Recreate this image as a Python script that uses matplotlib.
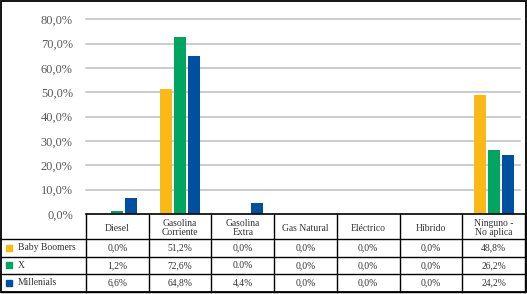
import matplotlib
matplotlib.use("Agg")
import matplotlib.pyplot as plt
from matplotlib.lines import Line2D
from matplotlib.patches import Rectangle

categories = ["Diesel", "Gasolina\nCorriente", "Gasolina\nExtra", "Gas Natural",
              "Eléctrico", "Híbrido", "Ninguno -\nNo aplica"]
series = ["Baby Boomers", "X", "Millenials"]
baby_boomers = [0.0, 51.2, 0.0, 0.0, 0.0, 0.0, 48.8]
gen_x = [1.2, 72.6, 0.0, 0.0, 0.0, 0.0, 26.2]
millenials = [6.6, 64.8, 4.4, 0.0, 0.0, 0.0, 24.2]
table_text = [
    ["0,0%", "51,2%", "0,0%", "0,0%", "0,0%", "0,0%", "48,8%"],
    ["1,2%", "72,6%", "0.0%", "0,0%", "0,0%", "0,0%", "26,2%"],
    ["6,6%", "64,8%", "4,4%", "0,0%", "0,0%", "0,0%", "24,2%"],
]
yticks = [0, 10, 20, 30, 40, 50, 60, 70, 80]
colors = ["#FBB917", "#00A65F", "#0050A2"]

W, H = 527, 294
fig = plt.figure(figsize=(W / 100, H / 100), dpi=100)
plt.rcParams["font.family"] = ["Liberation Serif", "DejaVu Serif"]

x0, x1 = 86, 525
ytop, ybot = 19.3, 214
ax = fig.add_axes([x0 / W, (H - ybot) / H, (x1 - x0) / W, (ybot - ytop) / H])
n = len(categories)
idx = list(range(n))
bw = 0.19
step = 0.223
for j, (vals, c) in enumerate(zip([baby_boomers, gen_x, millenials], colors)):
    ax.bar([i + (j - 1) * step for i in idx], vals, width=bw, color=c, zorder=3)
ax.set_xlim(-0.5, n - 0.5)
ax.set_ylim(0, 80)
ax.set_yticks(yticks)
ax.set_yticklabels([f"{v:.1f}%".replace(".", ",") for v in yticks],
                   fontsize=8.9, color="#595959")
ax.tick_params(axis="y", length=0, pad=9.5)
ax.set_xticks([])
for v in yticks[1:]:
    ax.axhline(v, xmin=0, xmax=(520 - x0) / (x1 - x0), color="#BFBFBF", lw=1.1, zorder=0,
               clip_on=False)
for s in ["left", "right", "top"]:
    ax.spines[s].set_visible(False)
ax.spines["bottom"].set_color("black")
ax.spines["bottom"].set_linewidth(1.2)
ax.spines["bottom"].set_zorder(5)

# table overlay in pixel coordinates
tax = fig.add_axes([0, 0, 1, 1], zorder=-1)
tax.set_xlim(0, W)
tax.set_ylim(H, 0)
tax.axis("off")
cw = (x1 - x0) / n
rows = [214, 239.3, 256.7, 274.0, 291.7]
lw = 1.0
for y in rows[1:]:
    tax.add_line(Line2D([1, x1], [y, y], color="black", lw=lw))
for k in range(n + 1):
    tax.add_line(Line2D([x0 + k * cw] * 2, [ybot, rows[-1]], color="black", lw=lw))
tax.add_patch(Rectangle((1, 1), 524.5, 291.3, fill=False, ec="black", lw=1.3))

fs = 6.9
tc = "#333333"
for i, cat in enumerate(categories):
    tax.text(x0 + (i + 0.5) * cw, (rows[0] + rows[1]) / 2 + 1.5, cat, ha="center", va="center",
             fontsize=fs, color=tc, linespacing=0.95)
for r, (name, c) in enumerate(zip(series, colors)):
    yc = (rows[r + 1] + rows[r + 2]) / 2
    tax.add_patch(Rectangle((6, yc - 3), 6, 6, color=c))
    tax.text(18, yc, name, ha="left", va="center", fontsize=fs, color=tc)
    for i in range(n):
        tax.text(x0 + (i + 0.5) * cw, yc, table_text[r][i], ha="center", va="center",
                 fontsize=fs, color=tc)

fig.savefig("out.png", dpi=100)
